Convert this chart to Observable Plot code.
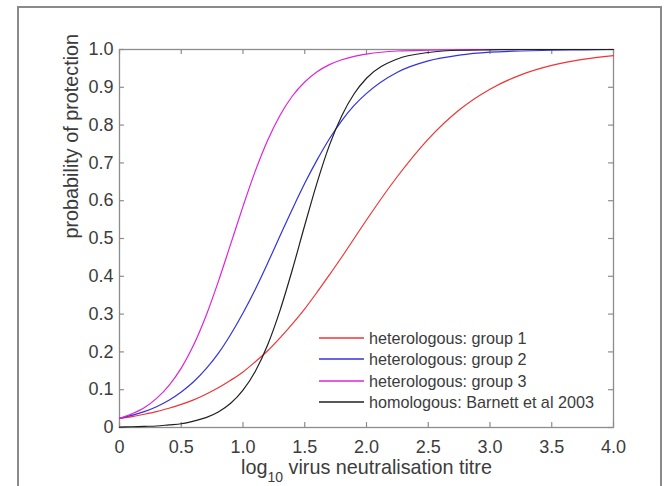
<!DOCTYPE html>
<html>
<head>
<meta charset="utf-8">
<script src="https://cdn.jsdelivr.net/npm/d3@7"></script>
<script src="https://cdn.jsdelivr.net/npm/@observablehq/plot@0.6"></script>
<style>
  html, body { margin: 0; padding: 0; background: #fff; }
  #wrap { position: relative; width: 668px; height: 486px; overflow: hidden; background: #fff; }
  #chart { position: absolute; left: 0; top: 0; }
  #border { position: absolute; left: 17px; top: 6px; width: 641px; height: 540px;
            border: 2px solid #8a8a8a; z-index: 2; pointer-events: none; }
</style>
</head>
<body>
<div id="wrap"><div id="chart"></div><div id="border"></div></div>
<script>
// ---- data ----
const titre = [0, 0.1, 0.2, 0.3, 0.4, 0.5, 0.6, 0.7, 0.8, 0.9, 1.0, 1.1, 1.2, 1.3, 1.4, 1.5, 1.6, 1.7, 1.8, 1.9, 2.0,
               2.25, 2.5, 2.75, 3.0, 3.25, 3.5, 3.75, 4.0];
const group1 = [0.024, 0.029, 0.035, 0.042, 0.051, 0.061, 0.073, 0.088, 0.105, 0.125, 0.147, 0.174, 0.203, 0.237, 0.274,
                0.314, 0.358, 0.404, 0.451, 0.500, 0.549, 0.664, 0.763, 0.840, 0.895, 0.933, 0.958, 0.974, 0.984];
const group2 = [0.024, 0.032, 0.042, 0.055, 0.072, 0.094, 0.121, 0.155, 0.196, 0.246, 0.303, 0.366, 0.435, 0.507, 0.578,
                0.646, 0.708, 0.764, 0.812, 0.852, 0.884, 0.940, 0.970, 0.985, 0.993, 0.996, 0.998, 0.999, 1.000];
const group3 = [0.024, 0.036, 0.052, 0.077, 0.111, 0.157, 0.218, 0.295, 0.386, 0.485, 0.585, 0.679, 0.760, 0.826, 0.877,
                0.914, 0.941, 0.960, 0.973, 0.982, 0.988, 0.996, 0.998, 0.999, 1.000, 1.000, 1.000, 1.000, 1.000];
const homologous = [0.001, 0.002, 0.003, 0.004, 0.007, 0.010, 0.017, 0.026, 0.041, 0.064, 0.099, 0.149, 0.219, 0.310, 0.418,
                    0.535, 0.648, 0.747, 0.825, 0.883, 0.924, 0.975, 0.992, 0.998, 0.999, 1.000, 1.000, 1.000, 1.000];
const seriesNames = ["heterologous: group 1", "heterologous: group 2", "heterologous: group 3", "homologous: Barnett et al 2003"];
const seriesColors = ["#f03434", "#3232dc", "#dc24dc", "#202020"];
const xTicks = [0, 0.5, 1, 1.5, 2, 2.5, 3, 3.5, 4];
const xTickLabels = ["0", "0.5", "1.0", "1.5", "2.0", "2.5", "3.0", "3.5", "4.0"];
const yTicks = [0, 0.1, 0.2, 0.3, 0.4, 0.5, 0.6, 0.7, 0.8, 0.9, 1];
const yTickLabels = ["0", "0.1", "0.2", "0.3", "0.4", "0.5", "0.6", "0.7", "0.8", "0.9", "1.0"];
const xLabelMain = "log", xLabelSub = "10", xLabelRest = " virus neutralisation titre";
const yLabel = "probability of protection";

// ---- build table ----
const seriesValues = [group1, group2, group3, homologous];
const rows = [];
seriesValues.forEach((vals, i) => vals.forEach((v, j) => rows.push({x: titre[j], y: v, s: seriesNames[i]})));
const xFmt = new Map(xTicks.map((t, i) => [t, xTickLabels[i]]));
const yFmt = new Map(yTicks.map((t, i) => [t, yTickLabels[i]]));

const font = "'Liberation Sans', Arial, Helvetica, sans-serif";
const axisGray = "#8c8c8c";
const textGray = "#3c3c3c";

const chart = Plot.plot({
  width: 668, height: 486,
  marginLeft: 119, marginRight: 55, marginTop: 49, marginBottom: 59,
  style: {fontFamily: font, fontSize: "18px", color: textGray, background: "transparent", overflow: "visible"},
  x: {domain: [0, 4]},
  y: {domain: [0, 1]},
  color: {domain: seriesNames, range: seriesColors},
  marks: [
    Plot.frame({stroke: axisGray, strokeWidth: 1.3}),
    Plot.ruleX(xTicks, {x: d => d, y1: 0, y2: 0.013, stroke: axisGray, strokeWidth: 1.2}),
    Plot.ruleX(xTicks, {x: d => d, y1: 1, y2: 0.987, stroke: axisGray, strokeWidth: 1.2}),
    Plot.ruleY(yTicks, {y: d => d, x1: 0, x2: 0.04, stroke: axisGray, strokeWidth: 1.2}),
    Plot.ruleY(yTicks, {y: d => d, x1: 4, x2: 3.96, stroke: axisGray, strokeWidth: 1.2}),
    Plot.line(rows, {x: "x", y: "y", z: "s", stroke: "s", strokeWidth: 1.2, curve: "monotone-x"}),
    Plot.axisX({ticks: xTicks, tickFormat: d => xFmt.get(d), tickSize: 0, tickPadding: 13, label: null, fontSize: 18}),
    Plot.axisY({ticks: yTicks, tickFormat: d => yFmt.get(d), tickSize: 0, tickPadding: 6, label: null, fontSize: 18}),
    Plot.text([yLabel], {frameAnchor: "left", rotate: -90, dx: -48, fontSize: 19.8, fill: textGray}),
    Plot.text([xLabelMain + xLabelSub + xLabelRest], {frameAnchor: "bottom", dy: 46.5, fontSize: 19.8, fill: textGray})
  ]
});
document.getElementById("chart").appendChild(chart);

// subscript in x label
const svg = d3.select(chart.tagName.toLowerCase() === "svg" ? chart : chart.querySelector("svg"));
svg.selectAll("text").each(function() {
  if (this.textContent === xLabelMain + xLabelSub + xLabelRest) {
    const t = d3.select(this);
    t.text(null);
    t.append("tspan").text(xLabelMain);
    t.append("tspan").attr("font-size", 14).attr("dy", 8).text(xLabelSub);
    t.append("tspan").attr("dy", -8).text(xLabelRest);
  }
});

// legend (inside the plot area, no box)
const legendRows = [338, 359, 381, 402];
const lg = svg.append("g").attr("font-family", font).attr("font-size", 16.2).attr("text-anchor", "start");
seriesNames.forEach((name, i) => {
  const y = legendRows[i];
  lg.append("line").attr("x1", 319).attr("x2", 364).attr("y1", y).attr("y2", y)
    .attr("stroke", seriesColors[i]).attr("stroke-width", 1.6);
  lg.append("text").attr("x", 369).attr("y", y).attr("dy", "0.35em")
    .attr("text-anchor", "start").attr("fill", textGray).text(name);
});
</script>
</body>
</html>
